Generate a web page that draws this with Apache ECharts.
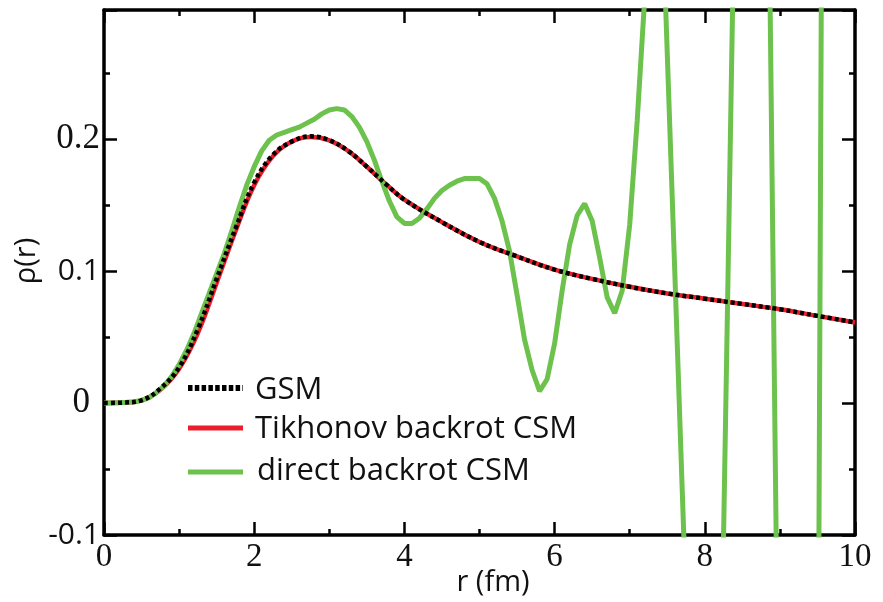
<!DOCTYPE html>
<html>
<head>
<meta charset="utf-8">
<script src="https://cdn.jsdelivr.net/npm/echarts@6/dist/echarts.min.js"></script>
<style>
  html, body { margin: 0; padding: 0; background: #fff; }
  #chart { width: 883px; height: 602px; }
</style>
</head>
<body>
<div id="chart"></div>
<script>
// Radial grid (fm) for the smooth densities
const radiusSmooth = [0, 0.25, 0.5, 0.75, 1.0, 1.25, 1.5, 1.75, 2.0, 2.25, 2.5, 2.75, 3.0, 3.25, 3.5, 3.75, 4.0,
  4.5, 5.0, 5.5, 6.0, 6.5, 7.0, 7.5, 8.0, 8.5, 9.0, 9.5, 10.0];

// GSM density rho(r)
const gsmDensity = [0, 0.0003, 0.002, 0.011, 0.027, 0.056, 0.094, 0.132, 0.167, 0.188, 0.198, 0.202, 0.199, 0.191,
  0.179, 0.166, 0.154, 0.137, 0.122, 0.111, 0.101, 0.094, 0.088, 0.083, 0.079, 0.075, 0.071, 0.066, 0.061];

// Tikhonov-regularised back-rotated CSM density
const tikhonovDensity = [0, 0.0003, 0.002, 0.010, 0.026, 0.053, 0.091, 0.130, 0.165, 0.187, 0.198, 0.2015, 0.199,
  0.191, 0.179, 0.166, 0.154, 0.137, 0.122, 0.111, 0.101, 0.094, 0.088, 0.083, 0.079, 0.075, 0.071, 0.066, 0.061];

// Radial grid (fm) for the directly back-rotated density, step 0.1
const radiusDirect = [];
for (let i = 0; i <= 100; i++) radiusDirect.push(+(i * 0.1).toFixed(1));

// Directly back-rotated CSM density (oscillates strongly at large r)
const directDensity = [
  0, 0, 0.0002, 0.0005, 0.001, 0.002, 0.004, 0.008, 0.013, 0.020,
  0.029, 0.040, 0.053, 0.068, 0.083, 0.098, 0.113, 0.130, 0.148, 0.165,
  0.179, 0.191, 0.199, 0.203, 0.205, 0.207, 0.209, 0.212, 0.215, 0.219,
  0.222, 0.223, 0.222, 0.217, 0.209, 0.198, 0.184, 0.168, 0.153, 0.141,
  0.136, 0.136, 0.140, 0.147, 0.155, 0.161, 0.165, 0.168, 0.170, 0.170,
  0.170, 0.166, 0.155, 0.138, 0.115, 0.082, 0.048, 0.025, 0.009, 0.018,
  0.045, 0.085, 0.120, 0.142, 0.151, 0.138, 0.110, 0.080, 0.068, 0.085,
  0.135, 0.214, 0.307, 0.400, 0.430, 0.265, 0.100, -0.067, -0.230, -0.400,
  -0.570, -0.600, -0.265, 0.065, 0.400, 0.730, 1.060, 1.150, 0.650, 0.150,
  -0.350, -0.850, -1.350, -1.850, -1.660, -0.360, 0.940, 2.240, 3.540, 4.840,
  6.140
];

const seriesNames = ['GSM', 'Tikhonov backrot CSM', 'direct backrot CSM'];
const xRange = [0, 10];
const yRange = [-0.1, 0.2977];
const serifLabels = ['0.2', '0'];

const pairs = (xs, ys) => xs.map((x, i) => [x, ys[i]]);

const SERIF = '"Liberation Serif", "Times New Roman", serif';
const SANS = '"Open Sans", "Noto Sans", sans-serif';

const tickStyle = {
  axisLine: { show: true, onZero: false, lineStyle: { color: '#000', width: 3.5 } },
  axisTick: { show: true, inside: true, length: 13, lineStyle: { color: '#000', width: 2.5 } },
  minorTick: { show: true, splitNumber: 2, length: 6, lineStyle: { color: '#000', width: 2.5 } },
  splitLine: { show: false },
  minorSplitLine: { show: false }
};

const xAxisBase = Object.assign({ type: 'value', min: xRange[0], max: xRange[1], interval: 2 }, tickStyle);
const yAxisBase = Object.assign({ type: 'value', min: yRange[0], max: yRange[1], interval: 0.1 }, tickStyle);

const chart = echarts.init(document.getElementById('chart'), null, { renderer: 'canvas' });

chart.setOption({
  animation: false,
  backgroundColor: '#fff',
  grid: { left: 104, right: 28, top: 10, bottom: 67, containLabel: false },
  xAxis: [
    Object.assign({}, xAxisBase, {
      position: 'bottom',
      axisLabel: { show: true, margin: 6, color: '#111', fontFamily: SERIF, fontSize: 33 }
    }),
    Object.assign({}, xAxisBase, { position: 'top', axisLabel: { show: false } })
  ],
  yAxis: [
    Object.assign({}, yAxisBase, {
      position: 'left',
      axisLabel: {
        show: true, margin: 4, color: '#111',
        formatter: function (v) {
          if (v > 0.25) return '';
          const s = String(Math.round(v * 10) / 10);
          if (s === '0') return '{zero|0}';
          return serifLabels.indexOf(s) >= 0 ? '{serif|' + s + '}' : '{sans|' + s + '}';
        },
        rich: {
          serif: { fontFamily: SERIF, fontSize: 35, color: '#111' },
          zero: { fontFamily: SERIF, fontSize: 35, color: '#111', padding: [0, 10, 0, 0] },
          sans: { fontFamily: SANS, fontSize: 30, color: '#111' }
        }
      }
    }),
    Object.assign({}, yAxisBase, { position: 'right', axisLabel: { show: false } })
  ],
  series: [
    {
      name: seriesNames[1], type: 'line', showSymbol: false, symbol: 'none', smooth: 0.4,
      data: pairs(radiusSmooth, tikhonovDensity),
      lineStyle: { color: '#ec1c2b', width: 4.5 }, z: 2
    },
    {
      name: seriesNames[2], type: 'line', showSymbol: false, symbol: 'none', smooth: false,
      data: pairs(radiusDirect, directDensity),
      lineStyle: { color: '#6cc24c', width: 5 }, z: 3
    },
    {
      name: seriesNames[0], type: 'line', showSymbol: false, symbol: 'none', smooth: 0.4,
      data: pairs(radiusSmooth, gsmDensity),
      lineStyle: { color: '#000', width: 4.5, type: [4, 3] }, z: 4
    }
  ],
  graphic: [
    // axis titles
    { type: 'text', x: 27, y: 261, rotation: Math.PI / 2,
      style: { text: 'ρ(r)', fontFamily: SANS, fontSize: 29, fill: '#111', align: 'center', verticalAlign: 'middle' } },
    { type: 'text', x: 493, y: 583,
      style: { text: 'r (fm)', fontFamily: SANS, fontSize: 29, fill: '#111', align: 'center', verticalAlign: 'middle' } },
    // legend
    { type: 'line', shape: { x1: 188, y1: 388, x2: 243, y2: 388 },
      style: { stroke: '#000', lineWidth: 6, lineDash: [4.5, 2.3] } },
    { type: 'text', x: 255, y: 390,
      style: { text: seriesNames[0], fontFamily: SANS, fontSize: 31, fill: '#111', verticalAlign: 'middle' } },
    { type: 'line', shape: { x1: 188, y1: 428, x2: 243, y2: 428 },
      style: { stroke: '#ec1c2b', lineWidth: 5 } },
    { type: 'text', x: 255, y: 429,
      style: { text: seriesNames[1], fontFamily: SANS, fontSize: 31, fill: '#111', verticalAlign: 'middle' } },
    { type: 'line', shape: { x1: 188, y1: 472, x2: 243, y2: 472 },
      style: { stroke: '#6cc24c', lineWidth: 5 } },
    { type: 'text', x: 257, y: 471,
      style: { text: seriesNames[2], fontFamily: SANS, fontSize: 31, fill: '#111', verticalAlign: 'middle' } }
  ]
});
</script>
</body>
</html>
